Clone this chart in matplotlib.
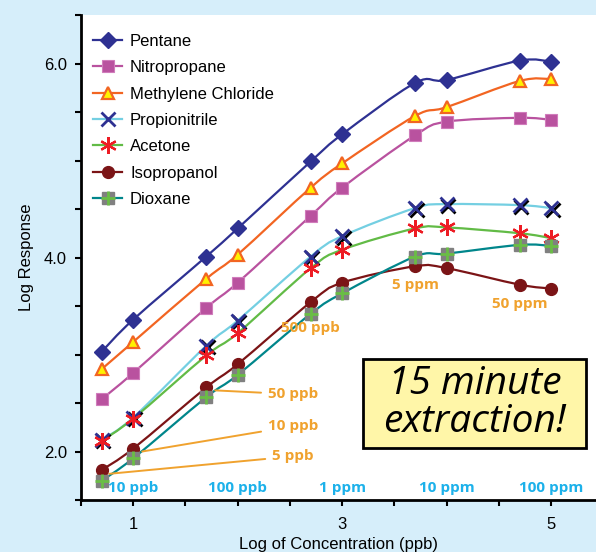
import numpy as np
import matplotlib
matplotlib.use("Agg")
from matplotlib import pyplot as plt
from matplotlib.path import Path
from matplotlib.patches import PathPatch, Rectangle
from matplotlib.ticker import MultipleLocator, FixedLocator, FormatStrFormatter
from matplotlib.legend_handler import HandlerTuple
from matplotlib.lines import Line2D
from matplotlib.transforms import ScaledTranslation

plt.rcParams['font.family'] = ['Liberation Sans', 'DejaVu Sans']

# concentrations in ppb, plotted on log scale
conc_ppb = [5, 10, 50, 100, 500, 1000, 5000, 10000, 50000, 100000]

pentane = [3.03, 3.36, 4.01, 4.30, 4.99, 5.27, 5.80, 5.83, 6.03, 6.02]
nitropropane = [2.54, 2.81, 3.48, 3.74, 4.43, 4.72, 5.26, 5.40, 5.44, 5.42]
methylene = [2.85, 3.13, 3.78, 4.03, 4.72, 4.97, 5.46, 5.55, 5.82, 5.84]
propionitrile = [2.12, 2.35, 3.09, 3.35, 4.01, 4.22, 4.51, 4.55, 4.54, 4.51]
acetone = [2.11, 2.34, 2.99, 3.22, 3.89, 4.08, 4.30, 4.31, 4.25, 4.20]
isopropanol = [1.81, 2.03, 2.66, 2.90, 3.54, 3.74, 3.91, 3.89, 3.72, 3.68]
dioxane = [1.70, 1.93, 2.56, 2.79, 3.42, 3.63, 4.01, 4.04, 4.13, 4.12]

range_labels = ['10 ppb', '100 ppb', '1 ppm', '10 ppm', '100 ppm']
range_pos = [1, 2, 3, 4, 5]

x = np.log10(conc_ppb)

BG = '#d6eefa'
ORANGE = '#f0a22e'
BLUE = '#1cb1ea'


def smooth_path(xs, ys):
    # Excel-style smoothed line (Catmull-Rom as cubic Bezier)
    pts = np.column_stack([xs, ys])
    n = len(pts)
    verts = [pts[0]]
    codes = [Path.MOVETO]
    for i in range(n - 1):
        p0 = pts[max(i - 1, 0)]
        p1 = pts[i]
        p2 = pts[i + 1]
        p3 = pts[min(i + 2, n - 1)]
        verts += [p1 + (p2 - p0) / 6, p2 - (p3 - p1) / 6, p2]
        codes += [Path.CURVE4] * 3
    return Path(verts, codes)


fig = plt.figure(figsize=(5.96, 5.52), dpi=100)
fig.patch.set_facecolor(BG)
ax = fig.add_axes([81 / 596, 52 / 552, 1 - 81 / 596, 485 / 552])
ax.set_facecolor('white')
ax.set_xlim(0.5, 5.43)
ax.set_ylim(1.5, 6.5)

series = [
    ('Pentane', pentane, '#2e3192', dict(marker='D', ms=8, mfc='#2e3192', mec='#2e3192')),
    ('Nitropropane', nitropropane, '#b9529f', dict(marker='s', ms=9, mfc='#b9529f', mec='#d07cbb', mew=0.8)),
    ('Methylene Chloride', methylene, '#f26522', dict(marker='^', ms=9, mfc='#fff200', mec='#f26522', mew=1.6)),
    ('Propionitrile', propionitrile, '#74cfe2', dict(marker='x', ms=10, mec='#2e3192', mew=2)),
    ('Acetone', acetone, '#62bb46', dict(marker=(6, 2, 0), ms=12, mec='#ed1c24', mew=1.6)),
    ('Isopropanol', isopropanol, '#7b1416', dict(marker='o', ms=8.5, mfc='#7b1416', mec='#7b1416')),
]

handles = []
labels = []
for name, vals, lc, mk in series:
    ax.add_patch(PathPatch(smooth_path(x, vals), fill=False, edgecolor=lc, lw=1.6, zorder=2))
    if name == 'Propionitrile':
        shadow = ax.transData + ScaledTranslation(1.5 / 100, -1.5 / 100, fig.dpi_scale_trans)
        ax.plot(x, vals, ls='none', marker='x', ms=10, mec='black', mew=2, zorder=3, transform=shadow)
    ax.plot(x, vals, ls='none', zorder=4, **mk)
    handles.append(Line2D([], [], color=lc, lw=1.6, **mk))
    labels.append(name)

# dioxane: gray square with green cross
ax.add_patch(PathPatch(smooth_path(x, dioxane), fill=False, edgecolor='#00868b', lw=1.6, zorder=2))
ax.plot(x, dioxane, ls='none', marker='s', ms=9, mfc='#808080', mec='#808080', zorder=4)
ax.plot(x, dioxane, ls='none', marker='+', ms=10, mec='#6abd45', mew=2, zorder=5)
handles.append((Line2D([], [], color='#00868b', lw=1.6, marker='s', ms=9, mfc='#808080', mec='#808080'),
                Line2D([], [], ls='none', marker='+', ms=10, mec='#6abd45', mew=2)))
labels.append('Dioxane')

ax.legend(handles, labels, loc='upper left', frameon=False, fontsize=12,
          handlelength=1.7, handletextpad=0.5, labelspacing=0.68,
          bbox_to_anchor=(-0.005, 0.992),
          handler_map={tuple: HandlerTuple(ndivide=1)})

# axes styling
for s in ['top', 'right']:
    ax.spines[s].set_visible(False)
for s in ['left', 'bottom']:
    ax.spines[s].set_linewidth(2)
ax.xaxis.set_major_locator(FixedLocator([1, 3, 5]))
ax.xaxis.set_minor_locator(MultipleLocator(0.5))
ax.yaxis.set_major_locator(FixedLocator([2, 4, 6]))
ax.yaxis.set_minor_locator(MultipleLocator(0.5))
ax.yaxis.set_major_formatter(FormatStrFormatter('%.1f'))
ax.tick_params(which='both', direction='out', length=4, width=1.5, labelsize=12, color='black')
ax.tick_params(axis='x', pad=8)
ax.tick_params(axis='y', pad=6)
ax.set_xlabel('Log of Concentration (ppb)', fontsize=12, labelpad=4)
ax.set_ylabel('Log Response', fontsize=12, labelpad=7)

# concentration labels along the bottom
for lab, pos in zip(range_labels, range_pos):
    ax.text(pos, 1.62, lab, ha='center', va='center', color=BLUE,
            fontsize=11, fontweight='bold', family='Open Sans')

# leader lines + point labels
callouts = [
    ('50 ppb', (1.785, 2.63), (2.29, 2.59)),
    ('10 ppb', (1.086, 2.00), (2.29, 2.26)),
    ('5 ppb', (0.77, 1.77), (2.33, 1.95)),
]
for lab, xy, xytext in callouts:
    ax.annotate(lab, xy=xy, xytext=xytext, ha='left', va='center', color=ORANGE,
                fontsize=11, fontweight='bold', family='Open Sans',
                arrowprops=dict(arrowstyle='-', color=ORANGE, lw=1.4, shrinkA=3, shrinkB=0))
for lab, px, py in [('500 ppb', 2.41, 3.27), ('5 ppm', 3.48, 3.72), ('50 ppm', 4.435, 3.52)]:
    ax.text(px, py, lab, ha='left', va='center', color=ORANGE,
            fontsize=11, fontweight='bold', family='Open Sans')

# callout box
ax.add_patch(Rectangle((3.20, 2.04), 2.135, 0.91, facecolor='#fff6a8', edgecolor='black', lw=2, zorder=6))
ax.text(4.27, 2.50, '15 minute\nextraction!', ha='center', va='center', fontsize=28,
        style='italic', family='Open Sans', linespacing=1.0, zorder=7)

fig.savefig('out.png', dpi=100, facecolor=BG)
